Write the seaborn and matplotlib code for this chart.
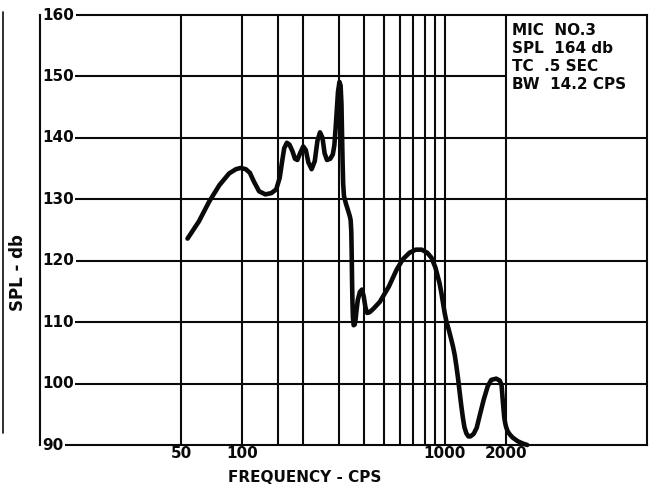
import matplotlib
matplotlib.use("Agg")
import matplotlib.pyplot as plt
from matplotlib.lines import Line2D
import matplotlib.transforms as mtransforms
import numpy as np
import pandas as pd
import seaborn as sns

# Measured spectrum: frequency (cps) and sound pressure level (db)
freq_cps = [53.6, 61, 68.5, 77, 86, 93, 98, 104, 109, 114, 121, 130, 139, 147,
            153, 157, 161, 166, 171, 177, 182, 187, 193, 200, 206, 212, 220,
            228, 235, 242, 249, 255, 262, 272, 280, 285, 289, 293, 297, 302,
            306, 309, 311, 313, 315, 318, 325, 333, 340, 343, 345.5, 347,
            348.5, 350, 352, 355, 359, 363, 367, 372, 381, 390, 398, 406, 414,
            425, 445, 478, 530, 578, 620, 670, 720, 770, 820, 860, 900, 944,
            965, 985, 1000, 1020, 1045, 1070, 1100, 1122, 1142, 1165, 1186,
            1208, 1231, 1252, 1280, 1310, 1340, 1390, 1440, 1490, 1560, 1634,
            1700, 1797, 1870, 1910, 1940, 1970, 1990, 2013, 2050, 2100, 2170,
            2300, 2450, 2560]
spl_db = [123.6, 126.4, 129.6, 132.3, 134.2, 134.9, 135.1, 134.9, 134.3, 132.9,
          131.3, 130.8, 131.0, 131.6, 133.5, 136.0, 138.3, 139.2, 138.9, 137.8,
          136.6, 136.4, 137.5, 138.6, 138.0, 136.0, 134.9, 136.2, 139.5, 140.9,
          140.0, 137.5, 136.4, 136.6, 137.3, 138.8, 141.5, 144.5, 147.5, 149.1,
          148.5, 145.5, 140.5, 136.0, 132.5, 130.5, 129.3, 128.2, 127.2, 126.6,
          124.8, 121.5, 117.0, 113.5, 110.8, 109.5, 109.6, 110.5, 112.0, 113.6,
          114.9, 115.3, 114.2, 112.4, 111.5, 111.6, 112.2, 113.3, 115.8, 118.5,
          120.2, 121.3, 121.8, 121.8, 121.3, 120.5, 118.9, 116.3, 114.6, 112.8,
          111.5, 110.1, 108.9, 107.6, 106.0, 104.6, 102.9, 100.8, 98.6, 96.4,
          94.4, 92.9, 91.9, 91.4, 91.4, 91.8, 92.8, 94.8, 97.4, 99.6, 100.6,
          100.8, 100.5, 99.8, 97.0, 94.5, 93.6, 92.9, 92.2, 91.7, 91.2, 90.6,
          90.2, 90.0]

# Chart grid and labels
x_grid = [50, 100, 150, 200, 300, 400, 500, 600, 700, 800, 900, 1000, 2000]
x_ticks = [50, 100, 1000, 2000]
x_tick_labels = ["50", "100", "1000", "2000"]
y_ticks = [90, 100, 110, 120, 130, 140, 150, 160]
y_tick_labels = ["90", "100", "110", "120", "130", "140", "150", "160"]
info_lines = ["MIC  NO.3", "SPL  164 db", "TC  .5 SEC", "BW  14.2 CPS"]

sns.set_style("white")
plt.rcParams["font.family"] = ["DejaVu Sans"]

fig = plt.figure(figsize=(6.49, 4.93), dpi=100)
ax = fig.add_axes([40 / 649, 1 - 445 / 493, 607 / 649, 430 / 493])
ax.set_xscale("log")
ax.set_xlim(10, 10000)
ax.set_ylim(90, 160)

ink = "#0a0a0a"
grid_lw = 1.5

# vertical grid lines
for xv in x_grid:
    ax.axvline(xv, color=ink, lw=grid_lw, zorder=1)
# horizontal grid lines; the 150 line stops at the legend block
box_frac = np.log10(2000 / 10) / 3.0
for yv in [100, 110, 120, 130, 140]:
    ax.axhline(yv, color=ink, lw=grid_lw, zorder=1)
ax.axhline(150, xmax=box_frac, color=ink, lw=grid_lw, zorder=1)

for side in ["left", "right", "top", "bottom"]:
    ax.spines[side].set_visible(True)
    ax.spines[side].set_color(ink)
    ax.spines[side].set_linewidth(grid_lw)
ax.spines["left"].set_zorder(6)

df = pd.DataFrame({"freq": freq_cps, "spl": spl_db})
sns.lineplot(data=df, x="freq", y="spl", sort=False, estimator=None,
             color=ink, lw=3.3, ax=ax, zorder=4, clip_on=False)
for ln in ax.lines[-1:]:
    ln.set_solid_joinstyle("round")
    ln.set_solid_capstyle("round")

ax.set_xlabel("")
ax.set_ylabel("")
ax.set_xticks(x_ticks)
ax.set_xticklabels(x_tick_labels, fontsize=11, fontweight="bold", color=ink)
ax.xaxis.set_minor_locator(matplotlib.ticker.NullLocator())
ax.tick_params(axis="x", length=0, pad=1, labelcolor=ink)
ax.set_yticks([])

# y tick labels sit inside the frame, breaking the grid lines
trans = mtransforms.blended_transform_factory(ax.transAxes, ax.transData)
for yv, lab in zip(y_ticks, y_tick_labels):
    ax.text(0.003, yv, lab, transform=trans, ha="left", va="center",
            fontsize=11, fontweight="bold", color=ink, zorder=5,
            bbox=dict(boxstyle="square,pad=0.12", fc="white", ec="none"))

fig.text(304.5 / 649, 1 - 478 / 493, "FREQUENCY - CPS", ha="center",
         va="center", fontsize=11, fontweight="bold", color=ink)
fig.text(18 / 649, 1 - 273 / 493, "SPL - db", rotation=90, ha="center",
         va="center", fontsize=12, fontweight="bold", color=ink)

fig.text(512 / 649, 1 - 23 / 493, "\n".join(info_lines), ha="left", va="top",
         fontsize=11, fontweight="bold", color=ink, linespacing=1.25)

# page edge rule at the far left
fig.add_artist(Line2D([3 / 649, 3 / 649], [1 - 12 / 493, 1 - 433 / 493],
                      color=ink, lw=1.2))

fig.savefig("out.png", dpi=100, facecolor="white")
